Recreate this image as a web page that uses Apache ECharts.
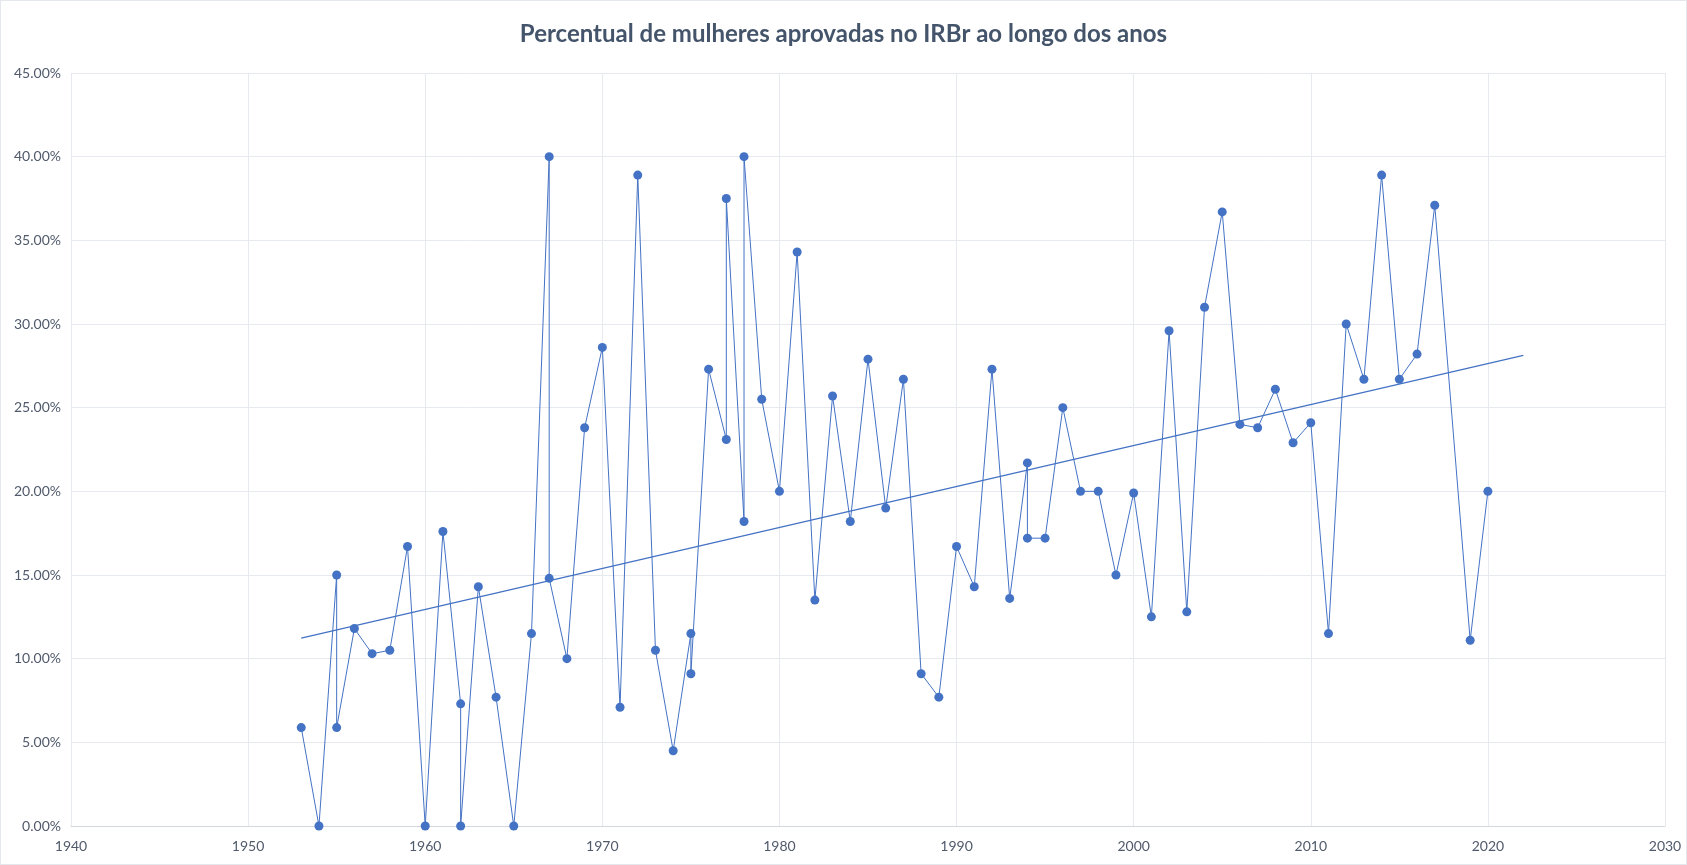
<!DOCTYPE html>
<html>
<head>
<meta charset="utf-8">
<script src="https://cdn.jsdelivr.net/npm/echarts@6/dist/echarts.min.js"></script>
<style>
    html, body { margin: 0; padding: 0; background: #fff; }
    #main { width: 1687px; height: 865px; box-sizing: border-box; border: 1px solid #e4e7ec; }
</style>
</head>
<body>
<div id="main"></div>
<script>
// anos (repetidos quando houve mais de um concurso no ano)
var anos = [1953, 1954, 1955, 1955, 1956, 1957, 1958, 1959, 1960, 1961, 1962, 1962, 1963, 1964, 1965, 1966,
    1967, 1967, 1968, 1969, 1970, 1971, 1972, 1973, 1974, 1975, 1975, 1976, 1977, 1977, 1978, 1978,
    1979, 1980, 1981, 1982, 1983, 1984, 1985, 1986, 1987, 1988, 1989, 1990, 1991, 1992, 1993, 1994,
    1994, 1995, 1996, 1997, 1998, 1999, 2000, 2001, 2002, 2003, 2004, 2005, 2006, 2007, 2008, 2009,
    2010, 2011, 2012, 2013, 2014, 2015, 2016, 2017, 2019, 2020];

// percentual de mulheres aprovadas (%)
var percentual = [5.88, 0, 15.0, 5.88, 11.8, 10.3, 10.5, 16.7, 0, 17.6, 7.3, 0, 14.3, 7.7, 0, 11.5,
    40.0, 14.8, 10.0, 23.8, 28.6, 7.1, 38.9, 10.5, 4.5, 11.5, 9.1, 27.3, 23.1, 37.5, 18.2, 40.0,
    25.5, 20.0, 34.3, 13.5, 25.7, 18.2, 27.9, 19.0, 26.7, 9.1, 7.7, 16.7, 14.3, 27.3, 13.6, 21.7,
    17.2, 17.2, 25.0, 20.0, 20.0, 15.0, 19.9, 12.5, 29.6, 12.8, 31.0, 36.7, 24.0, 23.8, 26.1, 22.9,
    24.1, 11.5, 30.0, 26.7, 38.9, 26.7, 28.2, 37.1, 11.1, 20.0];

// linha de tendência (linear)
var tendenciaAnos = [1953, 2022];
var tendenciaValores = [11.23, 28.12];

var azul = '#4472c4';
var cinzaTexto = '#505a6b';
var fonte = 'Lato, "Open Sans", sans-serif';

var pontos = anos.map(function (a, i) { return [a, percentual[i]]; });
var tendencia = tendenciaAnos.map(function (a, i) { return [a, tendenciaValores[i]]; });

var myChart = echarts.init(document.getElementById('main'));

var option = {
    animation: false,
    title: {
        text: 'Percentual de mulheres aprovadas no IRBr ao longo dos anos',
        left: 'center',
        top: 16,
        textStyle: { fontFamily: fonte, fontSize: 24, fontWeight: 'bold', color: '#44546a' }
    },
    grid: { left: 70, right: 21, top: 72, bottom: 38, containLabel: false },
    xAxis: {
        type: 'value',
        min: 1940,
        max: 2030,
        interval: 10,
        axisLine: { show: true, lineStyle: { color: '#d3d8e0', width: 1 } },
        axisTick: { show: false },
        axisLabel: {
            color: cinzaTexto, fontFamily: fonte, fontSize: 14, margin: 13,
            formatter: function (v) { return String(v); }
        },
        splitLine: { show: true, lineStyle: { color: '#e6e9ee', width: 1 } }
    },
    yAxis: {
        type: 'value',
        min: 0,
        max: 45,
        interval: 5,
        axisLine: { show: false },
        axisTick: { show: false },
        axisLabel: {
            color: cinzaTexto, fontFamily: fonte, fontSize: 14, margin: 10,
            formatter: function (v) { return v.toFixed(2) + '%'; }
        },
        splitLine: { show: true, lineStyle: { color: '#e6e9ee', width: 1 } }
    },
    series: [{
        name: 'Percentual',
        type: 'line',
        data: pontos,
        symbol: 'circle',
        symbolSize: 9,
        itemStyle: { color: azul },
        lineStyle: { color: azul, width: 1 },
        z: 3
    }, {
        name: 'Tendência',
        type: 'line',
        data: tendencia,
        symbol: 'none',
        lineStyle: { color: azul, width: 1.3 },
        z: 2
    }]
};

myChart.setOption(option);
</script>
</body>
</html>
